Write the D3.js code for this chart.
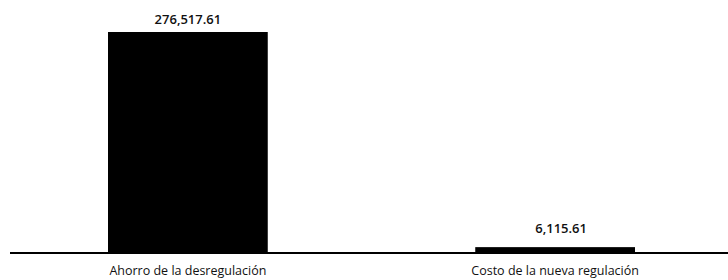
<!DOCTYPE html>
<html>
<head>
<meta charset="utf-8">
<script src="https://cdn.jsdelivr.net/npm/d3@7"></script>
<style>
  body { margin: 0; background: #fff; }
  svg { display: block; }
</style>
</head>
<body>
<div id="chart"></div>
<script>
const categories = ["Ahorro de la desregulación", "Costo de la nueva regulación"];
const values = [276517.61, 6115.61];
const valueLabels = ["276,517.61", "6,115.61"];

const WIDTH = 728;
const HEIGHT = 280;
const BASE = 252;
const TOP = 32;

const svg = d3.select('#chart')
              .append('svg')
              .attr('width', WIDTH)
              .attr('height', HEIGHT);

// scales
const X_SCALE = d3.scaleBand()
                  .domain(categories)
                  .range([108, 635])
                  .paddingInner(0.565)
                  .paddingOuter(0);
const Y_SCALE = d3.scaleLinear()
                  .domain([0, d3.max(values)])
                  .range([BASE, TOP]);

const data = categories.map((c, i) => ({cat: c, val: values[i], label: valueLabels[i]}));

// bars
svg.selectAll('rect.bar')
   .data(data)
   .enter()
   .append('rect')
   .attr('class', 'bar')
   .attr('x', d => X_SCALE(d.cat))
   .attr('y', d => Y_SCALE(d.val))
   .attr('width', X_SCALE.bandwidth())
   .attr('height', d => BASE - Y_SCALE(d.val))
   .attr('fill', '#000');

// value labels
svg.selectAll('text.val')
   .data(data)
   .enter()
   .append('text')
   .attr('class', 'val')
   .attr('x', d => X_SCALE(d.cat) + X_SCALE.bandwidth() / 2 + (d.val < 50000 ? 6 : 0))
   .attr('y', d => Y_SCALE(d.val) - (d.val < 50000 ? 14 : 8))
   .attr('text-anchor', 'middle')
   .attr('font-family', '"Open Sans", sans-serif')
   .attr('font-weight', 600)
   .attr('font-size', 13)
   .attr('fill', '#111')
   .text(d => d.label);

// baseline
svg.append('line')
   .attr('x1', 10)
   .attr('x2', WIDTH)
   .attr('y1', BASE + 1)
   .attr('y2', BASE + 1)
   .attr('stroke', '#000')
   .attr('stroke-width', 2);

// category axis
const X_AXIS = d3.axisBottom(X_SCALE).tickSize(0).tickPadding(0);
const gx = svg.append('g')
              .attr('transform', 'translate(0,' + (BASE + 14) + ')')
              .call(X_AXIS);
gx.select('.domain').remove();
gx.selectAll('text')
  .attr('font-family', '"Open Sans", sans-serif')
  .attr('font-size', 12.5)
  .attr('fill', '#111');
</script>
</body>
</html>
